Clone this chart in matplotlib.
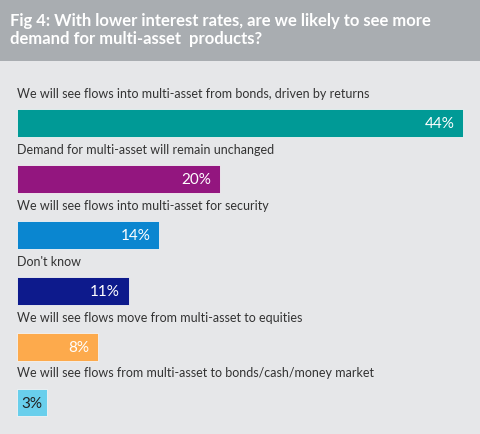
import matplotlib
matplotlib.use("Agg")
import matplotlib.pyplot as plt
from matplotlib.patches import Rectangle

categories = [
    "We will see flows into multi-asset from bonds, driven by returns",
    "Demand for multi-asset will remain unchanged",
    "We will see flows into multi-asset for security",
    "Don't know",
    "We will see flows move from multi-asset to equities",
    "We will see flows from multi-asset to bonds/cash/money market",
]
values = [44, 20, 14, 11, 8, 3]
value_labels = ["44%", "20%", "14%", "11%", "8%", "3%"]
colors = ["#009a96", "#93167f", "#0a86d0", "#0d1a8c", "#fdaa4c", "#69cfec"]
title = "Fig 4: With lower interest rates, are we likely to see more\ndemand for multi-asset  products?"

W, H = 480, 434
fig = plt.figure(figsize=(W / 100, H / 100), dpi=100)
fig.patch.set_facecolor("#e6e7e9")

# header band
hdr = 61
fig.patches.append(Rectangle((0, 1 - hdr / H), 1, hdr / H, transform=fig.transFigure,
                             facecolor="#a9adb1", edgecolor="none", zorder=0))
fig.text(10 / W, 1 - 30 / H, title, color="white", fontsize=12, family="Lato",
         fontweight="bold", va="center", ha="left", linespacing=1.2)

px_per_unit = 10.14
left = 17
ax = fig.add_axes([left / W, 0, (W - left) / W, (H - hdr) / H])
ax.set_facecolor("none")
ax.set_xlim(0, (W - left) / px_per_unit)
spacing = 55.9
first_c = 123
ax.set_ylim((H - first_c) / spacing, -(first_c - hdr) / spacing)
ax.axis("off")

ys = list(range(len(values)))
ax.barh(ys, values, height=0.5, color=colors, edgecolor="#f4f4f4", linewidth=0.6, align="center")
for y, v, lab, cat in zip(ys, values, value_labels, categories):
    ax.text(0, y - 0.52, cat, color="#333333", fontsize=9, family="Lato", va="center", ha="left")
    if v >= 5:
        ax.text(v - 0.85, y + 0.02, lab, color="white", fontsize=11, family="Lato",
                va="center", ha="right")
    else:
        ax.text(v / 2, y + 0.02, lab, color="#222222", fontsize=11, family="Lato",
                va="center", ha="center")

fig.savefig("out.png", dpi=100, facecolor=fig.get_facecolor())
